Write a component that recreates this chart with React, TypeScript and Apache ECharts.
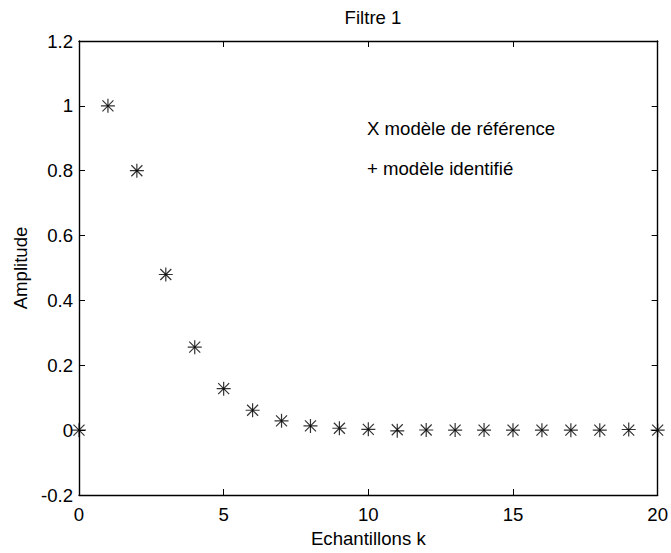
import React, { useEffect, useRef } from "react";
import * as echarts from "echarts";

const samples = [0, 1, 2, 3, 4, 5, 6, 7, 8, 9, 10, 11, 12, 13, 14, 15, 16, 17, 18, 19, 20];
const referenceModel = [0, 1, 0.8, 0.48, 0.256, 0.128, 0.0614, 0.0287, 0.0131, 0.0059, 0.0026, 0.0011, 0.0005, 0.0002, 0.0001, 0, 0, 0, 0, 0, 0];
const identifiedModel = [0, 1, 0.8, 0.48, 0.256, 0.128, 0.0614, 0.0287, 0.0131, 0.0059, 0.0026, -0.002, 0.0005, 0.0002, 0.0001, 0, 0, 0, 0, 0.002, 0];
const xTicks = [0, 5, 10, 15, 20];
const yTicks = [-0.2, 0, 0.2, 0.4, 0.6, 0.8, 1, 1.2];

const FONT = "'Liberation Sans', Arial, sans-serif";
const FS = 18.6;

export default function App() {
  const ref = useRef<HTMLDivElement>(null);
  useEffect(() => {
    if (!ref.current) return;
    const chart = echarts.init(ref.current, undefined, { renderer: "svg" });
    const fmt = (v: number) => String(parseFloat(v.toFixed(1)));
    const axisLine = { show: true, onZero: false, lineStyle: { color: "#000", width: 1.4 } };
    const tick = { show: true, inside: true, length: 6, lineStyle: { color: "#000", width: 1 } };
    const xMin = xTicks[0], xMax = xTicks[xTicks.length - 1], xInt = xTicks[1] - xTicks[0];
    const yMin = yTicks[0], yMax = yTicks[yTicks.length - 1], yInt = 0.2;
    chart.setOption({
      animation: false,
      backgroundColor: "#fff",
      textStyle: { fontFamily: FONT },
      title: {
        text: "Filtre 1",
        left: 368,
        top: 3,
        textAlign: "center",
        textStyle: { fontFamily: FONT, fontSize: FS, fontWeight: "normal", color: "#000" },
      },
      grid: { left: 79, right: 12, top: 41, bottom: 56, containLabel: false },
      xAxis: [
        {
          type: "value",
          position: "bottom",
          min: xMin,
          max: xMax,
          interval: xInt,
          axisLine,
          axisTick: tick,
          splitLine: { show: false },
          axisLabel: { color: "#000", fontSize: FS, fontFamily: FONT, margin: 10, formatter: fmt },
          name: "Echantillons k",
          nameLocation: "middle",
          nameGap: 34,
          nameTextStyle: { color: "#000", fontSize: FS, fontFamily: FONT },
        },
        {
          type: "value",
          position: "top",
          min: xMin,
          max: xMax,
          interval: xInt,
          axisLine,
          axisTick: tick,
          splitLine: { show: false },
          axisLabel: { show: false },
        },
      ],
      yAxis: [
        {
          type: "value",
          position: "left",
          min: yMin,
          max: yMax,
          interval: yInt,
          axisLine,
          axisTick: tick,
          splitLine: { show: false },
          axisLabel: { color: "#000", fontSize: FS, fontFamily: FONT, margin: 6, formatter: fmt },
          name: "Amplitude",
          nameLocation: "middle",
          nameGap: 47,
          nameTextStyle: { color: "#000", fontSize: FS, fontFamily: FONT },
        },
        {
          type: "value",
          position: "right",
          min: yMin,
          max: yMax,
          interval: yInt,
          axisLine,
          axisTick: tick,
          splitLine: { show: false },
          axisLabel: { show: false },
        },
      ],
      graphic: [
        {
          type: "text",
          x: 367,
          y: 128,
          style: { text: "X modèle de référence", fontSize: FS, fontFamily: FONT, fill: "#000", verticalAlign: "middle" },
        },
        {
          type: "text",
          x: 367,
          y: 168,
          style: { text: "+ modèle identifié", fontSize: FS, fontFamily: FONT, fill: "#000", verticalAlign: "middle" },
        },
      ],
      series: [
        {
          name: "modèle de référence",
          type: "scatter",
          clip: false,
          symbol: "path://M0,0L10,10M10,0L0,10",
          symbolSize: 11,
          itemStyle: { color: "rgba(0,0,0,0)", borderColor: "#000", borderWidth: 1.2 },
          data: samples.map((k, i) => [k, referenceModel[i]]),
        },
        {
          name: "modèle identifié",
          type: "scatter",
          clip: false,
          symbol: "path://M5,0L5,10M0,5L10,5",
          symbolSize: 14,
          itemStyle: { color: "rgba(0,0,0,0)", borderColor: "#000", borderWidth: 1.2 },
          data: samples.map((k, i) => [k, identifiedModel[i]]),
        },
      ],
    });
    return () => chart.dispose();
  }, []);
  return (
    <div
      ref={ref}
      style={{ position: "fixed", left: 0, top: 0, width: 671, height: 553, background: "#fff" }}
    />
  );
}
